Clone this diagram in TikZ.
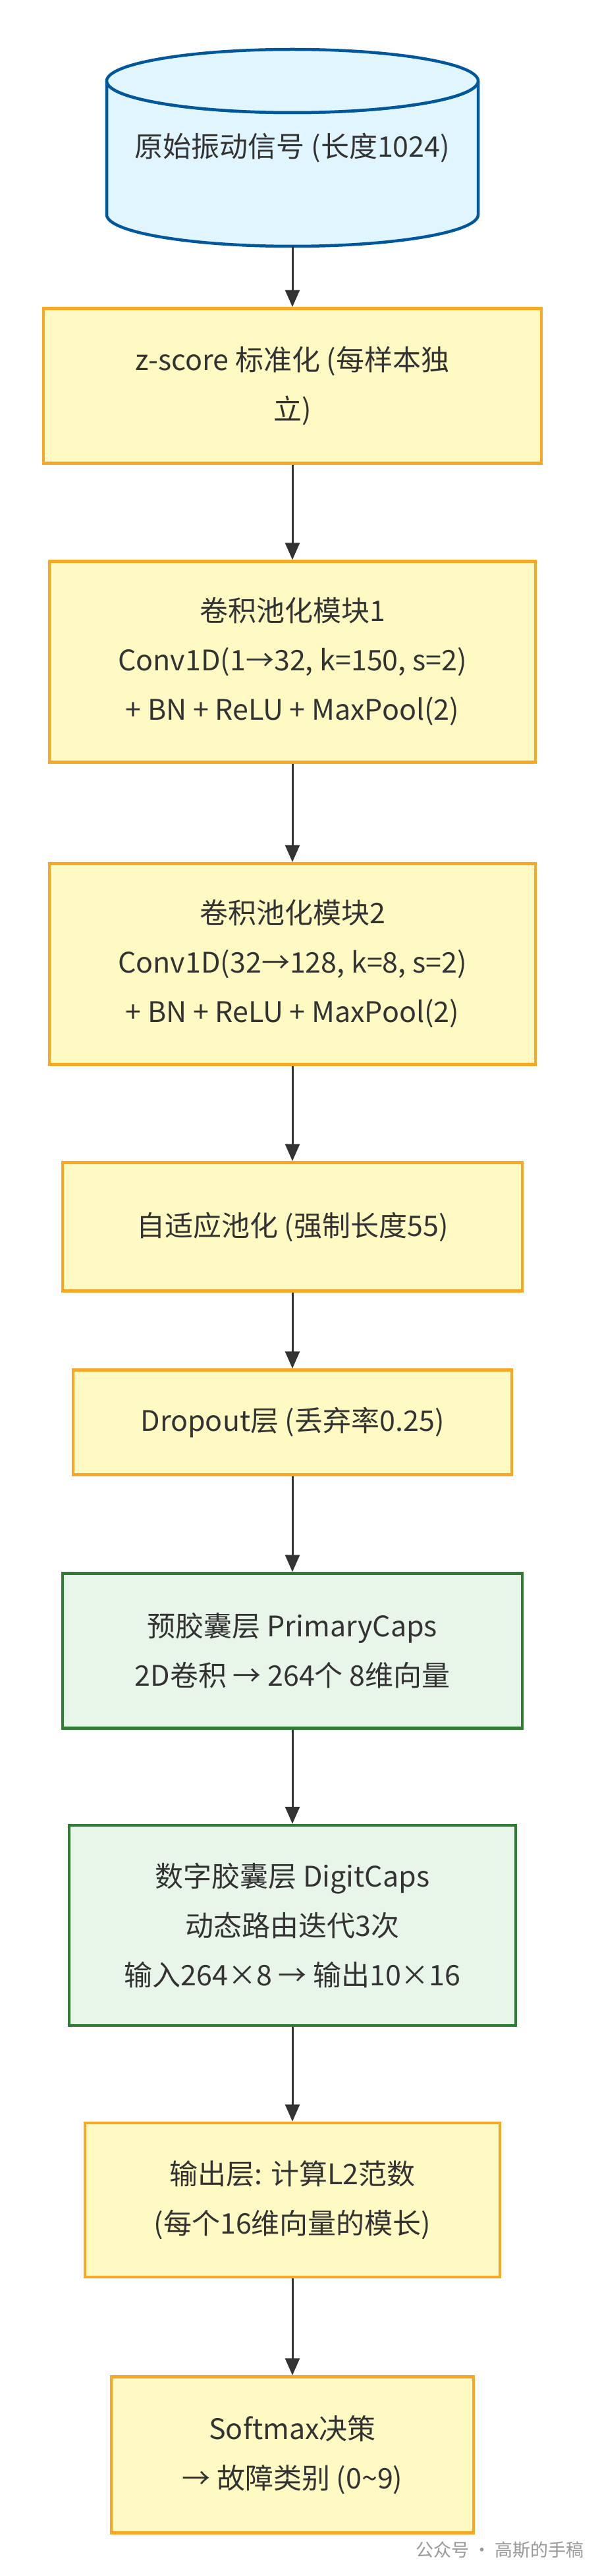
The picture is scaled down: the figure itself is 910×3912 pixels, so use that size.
\documentclass[tikz,border=0pt]{standalone}
\usepackage{fontspec}
\setmainfont{Noto Sans CJK SC}
\usetikzlibrary{arrows.meta}
\definecolor{txt}{HTML}{333333}
\definecolor{cylfill}{HTML}{E1F5FE}
\definecolor{cylline}{HTML}{01579B}
\definecolor{yfill}{HTML}{FFF9C4}
\definecolor{yline}{HTML}{F9A825}
\definecolor{gfill}{HTML}{E8F5E9}
\definecolor{gline}{HTML}{2E7D32}
\tikzset{
    stage/.style={draw=yline, fill=yfill, line width=4.5pt, align=center, text=txt,
        font=\fontsize{43}{75}\selectfont, inner sep=0pt},
    caps/.style={stage, draw=gline, fill=gfill},
    flow/.style={draw=txt, line width=3pt, -{Triangle[length=26pt,width=22pt]}}
}
\begin{document}
\begin{tikzpicture}[x=1pt,y=-1pt]
    \useasboundingbox (0,0) rectangle (910,3912);
    % Define the centre line and the cylinder
    \def\cx{444}
    \def\rx{282}
    \def\ry{48}

    % Draw the input cylinder
    \draw[cylline, fill=cylfill, line width=4.5pt]
        (\cx-\rx,75+\ry) arc[start angle=180, end angle=360, x radius=\rx, y radius=-\ry]
        -- (\cx+\rx,374-\ry) arc[start angle=0, end angle=-180, x radius=\rx, y radius=-\ry] -- cycle;
    \draw[cylline, fill=cylfill, line width=4.5pt] (\cx,75+\ry) ellipse[x radius=\rx, y radius=\ry];
    \node[text=txt, font=\fontsize{43}{75}\selectfont] (sig) at (\cx,225) {原始振动信号 (长度1024)};
    \coordinate (sigb) at (\cx,374);

    % Draw the processing stages
    \node[stage, minimum width=756pt, minimum height=235pt] (norm) at (\cx,586) {z-score 标准化 (每样本独\\立)};
    \node[stage, minimum width=738pt, minimum height=305pt] (blk1) at (\cx,1005) {卷积池化模块1\\Conv1D(1→32, k=150, s=2)\\+ BN + ReLU + MaxPool(2)};
    \node[stage, minimum width=738pt, minimum height=305pt] (blk2) at (\cx,1464) {卷积池化模块2\\Conv1D(32→128, k=8, s=2)\\+ BN + ReLU + MaxPool(2)};
    \node[stage, minimum width=698pt, minimum height=195pt] (pool) at (\cx,1863) {自适应池化 (强制长度55)};
    \node[stage, minimum width=666pt, minimum height=159pt] (drop) at (\cx,2160) {Dropout层 (丢弃率0.25)};
    \node[caps, minimum width=698pt, minimum height=235pt] (prim) at (\cx,2507) {预胶囊层 PrimaryCaps\\2D卷积 → 264个 8维向量};
    \node[caps, minimum width=678pt, minimum height=304pt] (digit) at (\cx,2924) {数字胶囊层 DigitCaps\\动态路由迭代3次\\输入264×8 → 输出10×16};
    \node[stage, minimum width=630pt, minimum height=234pt] (outl) at (\cx,3341) {输出层: 计算L2范数\\(每个16维向量的模长)};
    \node[stage, minimum width=550pt, minimum height=237pt] (soft) at (\cx,3728) {Softmax决策\\→ 故障类别 (0\textasciitilde 9)};

    % Draw the arrows
    \draw[flow] (sigb) -- (norm);
    \draw[flow] (norm) -- (blk1);
    \draw[flow] (blk1) -- (blk2);
    \draw[flow] (blk2) -- (pool);
    \draw[flow] (pool) -- (drop);
    \draw[flow] (drop) -- (prim);
    \draw[flow] (prim) -- (digit);
    \draw[flow] (digit) -- (outl);
    \draw[flow] (outl) -- (soft);

    % Watermark
    \node[text=black!40, font=\fontsize{27}{30}\selectfont, anchor=east] (mark) at (890,3872) {公众号 · 高斯的手稿};
\end{tikzpicture}
\end{document}
